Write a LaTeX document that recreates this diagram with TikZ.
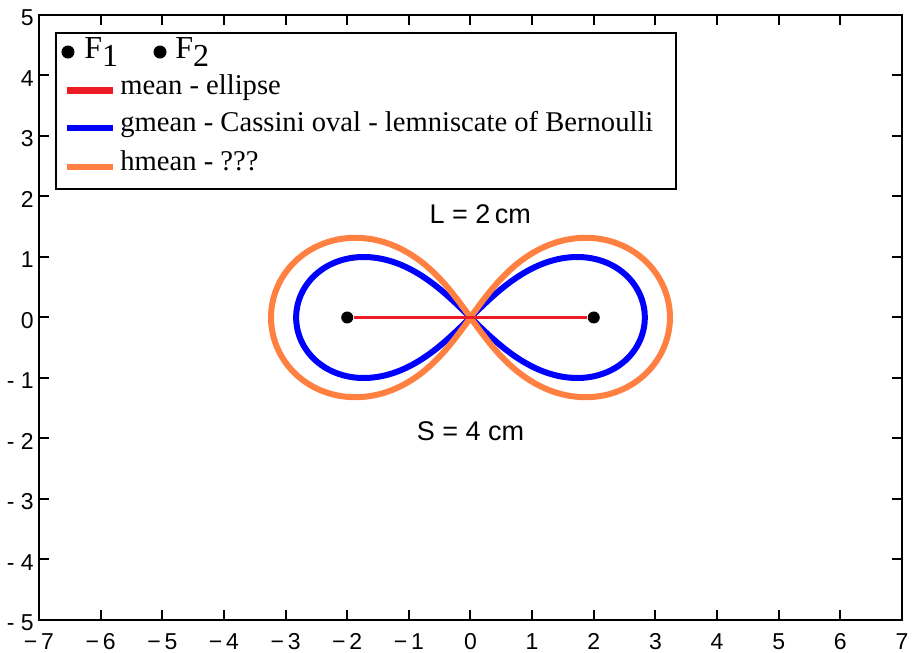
\documentclass[tikz,border=0pt]{standalone}
\usepackage{fontspec}
\setmainfont{Liberation Serif}
\setsansfont{Liberation Sans}
\definecolor{meanred}{RGB}{237,28,36}
\definecolor{gmeanblue}{RGB}{0,0,255}
\definecolor{hmeanorange}{RGB}{255,128,64}
\newcommand\xlab[1]{\ifnum#1<0 −\,\number\numexpr-#1\relax\else#1\fi}
\newcommand\ylab[1]{\ifnum#1<0 -\ \number\numexpr-#1\relax\else#1\fi}
\tikzset{
  axisline/.style={line width=1pt,black},
  ticklab/.style={font=\sffamily\fontsize{11.5}{12}\selectfont,inner sep=0pt},
  plotlab/.style={font=\sffamily\fontsize{13.5}{14}\selectfont,inner sep=0pt},
  legtext/.style={font=\fontsize{14.3}{16}\selectfont,anchor=west,inner sep=0pt,text height=0.6em,text depth=0.22em},
  legfocus/.style={font=\fontsize{16}{18}\selectfont,anchor=west,inner sep=0pt},
  focus/.style={circle,fill=black,inner sep=0pt,minimum size=6pt},
  legbar/.style={line width=3.3pt},
  curve/.style={line width=3pt,line join=round},
  declare function={
    hs(\s)=1.4436*sin(\s);
    hx(\s)=sinh(hs(\s))*(1+cosh(hs(\s)))/2;
    hy(\s)=sqrt(max(0,(1+exp(hs(\s)))^2-(hx(\s)+2)^2));
  }
}
\begin{document}
\begin{tikzpicture}[x=30.82pt,y=30.25pt]
\useasboundingbox (-235.25pt,-167.75pt) rectangle (220.75pt,158.75pt);
% axes
\draw[axisline] (-7,-5) rectangle (7,5);
\foreach \x in {-6,...,6} {
  \draw[axisline] (\x,-5) -- ++(0,5pt);
  \draw[axisline] (\x,5) -- ++(0,-5pt);
}
\foreach \y in {-4,...,4} {
  \draw[axisline] (-7,\y) -- ++(5pt,0);
  \draw[axisline] (7,\y) -- ++(-5pt,0);
}
\foreach \x in {-7,...,7}
  \node[ticklab] (xlab\x) at (\x,-5) [yshift=-10.85pt] {\xlab{\x}};
\foreach \y in {-5,...,5}
  \node[ticklab,anchor=east] (ylab\y) at (-7,\y) [xshift=-2.5pt,yshift=-1.5pt] {\ylab{\y}};
% curves
\draw[curve,gmeanblue] plot[domain=0:360,samples=181,variable=\t,smooth]
  ({2.8284*cos(\t)/(1+sin(\t)^2)},{2.8284*sin(\t)*cos(\t)/(1+sin(\t)^2)}) -- cycle;
\draw[curve,hmeanorange] plot[domain=-90:90,samples=121,variable=\u] ({hx(\u)},{hy(\u)})
  -- plot[domain=90:-90,samples=121,variable=\u] ({hx(\u)},{-hy(\u)}) -- cycle;
\node[focus] (f1) at (-2,0) {};
\node[focus] (f2) at (2,0) {};
\draw[meanred,line width=1.5pt] (f1) -- (f2);
\node[plotlab] (ltext) at (0.16,1.71) {L = 2\,cm};
\node[plotlab] (stext) at (0,-1.876) {S = 4 cm};
% legend
\draw[line width=1pt,fill=white] (-6.725,2.121) rectangle (3.334,4.71);
\node[focus,minimum size=6.5pt] (legf1) at (-6.53,4.388) {};
\node[legfocus] (legf1txt) at (-6.27,4.38) {F\raisebox{-4pt}{1}};
\node[focus,minimum size=6.5pt] (legf2) at (-5.037,4.388) {};
\node[legfocus] (legf2txt) at (-4.794,4.38) {F\raisebox{-4pt}{2}};
\foreach \c/\y/\t/\n in {meanred/3.749/{mean - ellipse}/mean,
    gmeanblue/3.132/{gmean - Cassini oval - lemniscate of Bernoulli}/gmean,
    hmeanorange/2.488/{hmean - ???}/hmean} {
  \draw[legbar,\c] (-6.546,\y) -- (-5.80,\y);
  \node[legtext] (leg\n) at (-5.686,\y) {\t};
}
\end{tikzpicture}
\end{document}
